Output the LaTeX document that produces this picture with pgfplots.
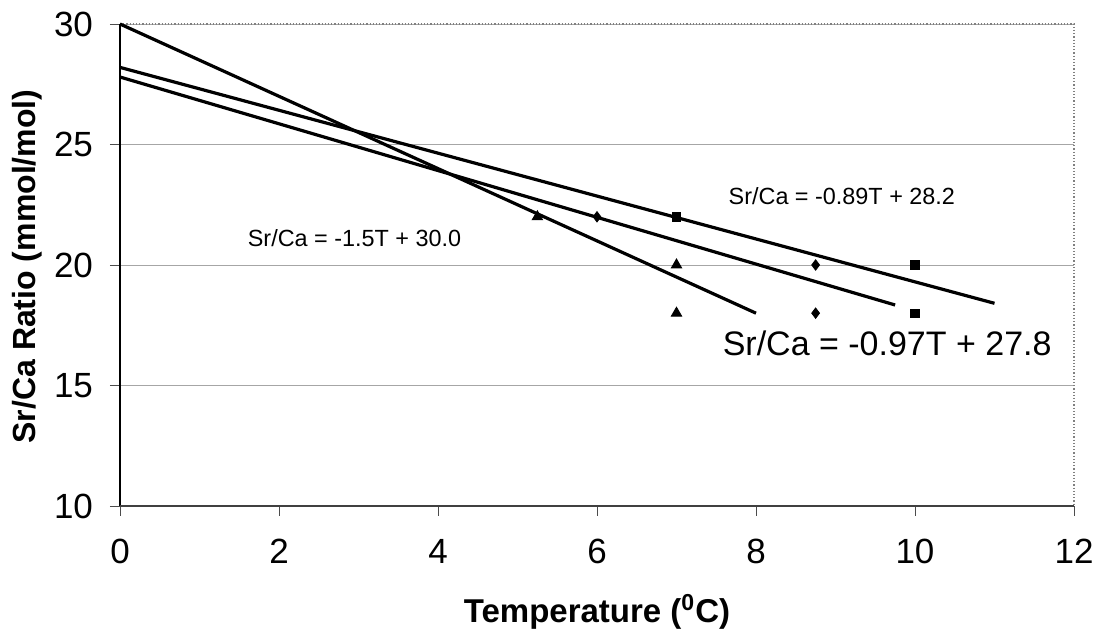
\documentclass[border=0pt]{standalone}
\usepackage{fontspec}
\setmainfont{Liberation Sans}
\usepackage{pgfplots}
\pgfplotsset{compat=1.18}
\begin{document}
\begin{tikzpicture}
\useasboundingbox (-60pt,-64.5pt) rectangle (489pt,253pt);
\begin{axis}[
  at={(0,0)}, anchor=south west,
  scale only axis, width=477pt, height=241pt,
  xmin=0, xmax=12, ymin=10, ymax=30,
  xtick={0,2,...,12}, ytick={10,15,...,30},
  xtick pos=bottom, ytick pos=left,
  /pgf/number format/assume math mode=true,
  axis line style={draw=none},
  tick align=outside, major tick length=5pt,
  tick style={gray!60!black, thin},
  ymajorgrids, major grid style={gray!70, thin},
  ticklabel style={font=\fontsize{17.5}{19}\selectfont},
  yticklabel style={anchor=east, xshift=-5pt},
  xticklabel style={anchor=north, yshift=-8pt},
  clip=false,
]
% frame
\draw[black, line width=0.8pt] (rel axis cs:0,0) -- (rel axis cs:0,1);
\draw[gray!50!black, line width=0.8pt] (rel axis cs:0,0) -- (rel axis cs:1,0);
\draw[gray, densely dotted, line width=0.6pt] (rel axis cs:0,1) -- (rel axis cs:1,1) -- (rel axis cs:1,0);
% axis labels
\node[font=\bfseries\fontsize{16.5}{18}\selectfont] at ([yshift=-53pt]rel axis cs:0.5,0) {Temperature (\textsuperscript{0}C)};
\node[font=\bfseries\fontsize{16}{18}\selectfont, rotate=90] at ([xshift=-46.5pt]rel axis cs:0,0.497) {Sr/Ca Ratio (mmol/mol)};
% regression lines
\addplot[black, line width=1.6pt, no marks] coordinates {(0,30.0) (8,18.0)};
\addplot[black, line width=1.6pt, no marks] coordinates {(0,27.8) (9.75,18.34)};
\addplot[black, line width=1.6pt, no marks] coordinates {(0,28.2) (11,18.41)};
% data points
\addplot[only marks, mark=triangle*, mark size=3pt, black] coordinates {(5.25,22) (7,20) (7,18)};
\addplot[only marks, mark=diamond*, mark size=2.6pt, black] coordinates {(6,22) (8.75,20) (8.75,18)};
\addplot[only marks, mark=square*, mark size=2.1pt, black] coordinates {(7,22) (10,20) (10,18)};
% equations
\node[font=\fontsize{11.7}{14}\selectfont] at (axis cs:2.95,21.1) {Sr/Ca = -1.5T + 30.0};
\node[font=\fontsize{11.7}{14}\selectfont] at (axis cs:9.08,22.86) {Sr/Ca = -0.89T + 28.2};
\node[font=\fontsize{17}{20}\selectfont] at (axis cs:9.65,16.76) {Sr/Ca = -0.97T + 27.8};
\end{axis}
\end{tikzpicture}
\end{document}
